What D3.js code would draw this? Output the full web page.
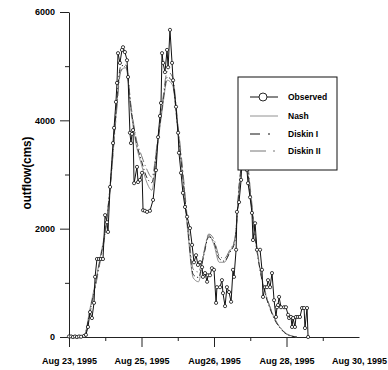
<!DOCTYPE html>
<html>
<head>
<meta charset="utf-8">
<script src="https://cdn.jsdelivr.net/npm/d3@7"></script>
<style>
  body { margin: 0; background: #fff; }
  svg { display: block; }
  text { font-family: "Liberation Sans", Arial, sans-serif; font-weight: bold; fill: #000; }
</style>
</head>
<body>
<div id="chart"></div>
<script>
// observed hydrograph (hours after Aug 23, 1995 00:00, outflow in cms)
var obsHours = [0, 1.2, 2.3, 3.5, 4.6, 5.8, 7.0, 8.7, 9.8, 11.0, 12.2, 13.3, 14.5, 15.1, 16.2, 17.4, 18.5, 19.7,
  20.9, 22.0, 22.6, 23.8, 25.5, 26.1, 27.2, 27.8, 28.4, 29.5, 30.7, 31.3, 32.4, 33.6, 34.2, 35.3, 35.9, 36.5,
  37.1, 37.7, 39.4, 40.0, 41.1, 42.3, 42.9, 44.0, 45.2, 46.9, 48.7, 50.4, 51.6, 52.7, 53.3, 53.9, 54.5, 55.6,
  56.8, 57.4, 58.5, 59.7, 60.3, 62.0, 63.2, 63.7, 64.9, 66.0, 67.2, 68.4, 70.1, 71.3, 72.4, 73.6, 74.7, 75.9,
  77.1, 77.6, 78.8, 80.0, 80.5, 81.7, 82.8, 84.0, 85.2, 85.7, 87.5, 88.6, 89.2, 90.4, 91.5, 92.7, 93.9, 95.0,
  95.6, 96.8, 97.3, 98.5, 99.7, 100.2, 100.8, 102.0, 103.1, 103.7, 104.9, 106.0, 106.6, 107.8, 108.9, 110.7,
  111.8, 112.4, 113.6, 114.7, 115.3, 116.5, 117.6, 118.8, 119.9, 120.5, 121.1, 121.7, 122.8, 124.6, 125.7,
  126.9, 127.5, 128.6, 129.2, 129.8, 130.9, 131.5, 132.7, 133.8, 135.0, 136.2, 136.7, 137.9, 138.5];
var obsFlow = [10, 10, 0, 10, 0, 10, 5, 20, 40, 185, 460, 350, 630, 1110, 1440, 1440, 1440, 1440,
  2250, 2120, 1940, 2770, 3580, 3860, 4340, 4690, 5240, 5060, 5300, 5350, 5260, 5110, 4800, 3770, 3580, 3750,
  3820, 2840, 3140, 2860, 2900, 3030, 2340, 2330, 2310, 2330, 2530, 3080, 3690, 4080, 4320, 5240, 5060, 4890,
  5300, 4980, 5670, 5060, 4740, 4250, 3770, 3400, 3030, 2660, 2400, 2220, 2010, 1700, 1380, 1510, 1330, 1380,
  1290, 1110, 1180, 1020, 1140, 1140, 1270, 1240, 630, 920, 920, 1050, 810, 570, 920, 830, 650, 1240,
  1110, 1610, 2310, 2490, 2900, 3400, 3210, 3400, 3080, 2840, 2580, 2290, 1790, 2100, 1610, 1610,
  1240, 740, 920, 920, 1050, 920, 1180, 680, 370, 550, 590, 740, 550, 550, 550,
  410, 350, 370, 185, 350, 185, 370, 370, 370, 535, 535, 165, 535, 0];

// simulated hydrographs, every 3 hours
var modelHours = [0, 3, 6, 9, 12, 15, 18, 21, 24, 27, 30, 33, 36, 39, 42, 45, 48, 51, 54, 57, 60, 63, 66, 69,
  72, 75, 78, 81, 84, 87, 90, 93, 96, 99, 102, 105, 108, 111, 114, 117, 120, 123, 126, 129, 132];
var nashFlow = [0, 0, 0, 40, 500, 960, 1460, 1980, 2810, 4010, 4930, 4970, 4150, 3540, 3180, 2860, 2710, 3450,
  4190, 4740, 4650, 3820, 2900, 1880, 1090, 1020, 1510, 1880, 1700, 1380, 1380, 1570, 1790, 2900, 3360, 2620,
  1790, 1200, 780, 500, 280, 150, 55, 20, 0];
var diskin1Flow = [0, 0, 0, 30, 450, 920, 1420, 1950, 2850, 4080, 5000, 5020, 4200, 3600, 3250, 2950, 2850, 3500,
  4250, 4800, 4700, 3850, 2950, 1950, 1150, 1100, 1500, 1850, 1750, 1450, 1400, 1550, 1750, 2950, 3400, 2650,
  1800, 1180, 760, 480, 270, 140, 50, 15, 0];
var diskin2Flow = [0, 0, 0, 25, 420, 880, 1380, 1920, 2800, 3950, 4900, 5000, 4250, 3650, 3350, 3100, 2950, 3550,
  4300, 4900, 4800, 3950, 3050, 2050, 1250, 1200, 1550, 1900, 1800, 1500, 1450, 1600, 1800, 2850, 3550, 2750,
  1850, 1220, 800, 510, 290, 150, 60, 20, 0];

var xMajorHours = [0, 42, 84, 126, 168];
var xMinorHours = [21, 63, 105, 147];
var xTickLabels = ['Aug 23, 1995', 'Aug 25, 1995', 'Aug26, 1995', 'Aug 28, 1995', 'Aug 30, 1995'];
var yMajorTicks = [0, 2000, 4000, 6000];
var yMinorTicks = [1000, 3000, 5000];
var legendLabels = ['Observed', 'Nash', 'Diskin I', 'Diskin II'];

var width = 388, height = 370;

var svg = d3.select('#chart').append('svg')
    .attr('width', width)
    .attr('height', height);

var x = d3.scaleLinear().domain([0, 168]).range([69, 359]);
var y = d3.scaleLinear().domain([0, 6000]).range([337, 12]);

// axes: major ticks with labels, minor ticks without
var yMajor = svg.append('g')
    .attr('transform', 'translate(69,0)')
    .call(d3.axisLeft(y).tickValues(yMajorTicks).tickSize(9).tickSizeOuter(0).tickPadding(5)
        .tickFormat(d3.format('d')));
var yMinor = svg.append('g')
    .attr('transform', 'translate(69,0)')
    .call(d3.axisLeft(y).tickValues(yMinorTicks).tickSize(4).tickSizeOuter(0).tickFormat(''));
yMinor.select('.domain').remove();

var xMajor = svg.append('g')
    .attr('transform', 'translate(0,337)')
    .call(d3.axisBottom(x).tickValues(xMajorHours).tickSize(10).tickSizeOuter(0).tickPadding(11)
        .tickFormat(function(d, i) { return xTickLabels[i]; }));
var xMinor = svg.append('g')
    .attr('transform', 'translate(0,337)')
    .call(d3.axisBottom(x).tickValues(xMinorHours).tickSize(4).tickSizeOuter(0).tickFormat(''));
xMinor.select('.domain').remove();

svg.selectAll('.domain, .tick line').attr('stroke', '#222').attr('stroke-width', 1);
svg.selectAll('.tick text')
    .style('font-family', '"Liberation Sans", Arial, sans-serif')
    .style('font-weight', 'bold')
    .style('font-size', '9px')
    .attr('fill', '#000');
// last x tick sits at the end of the axis, no visible stroke there
xMajor.selectAll('.tick').filter(function(d) { return d === 168; }).select('line').remove();

svg.append('text')
    .attr('transform', 'translate(31,173) rotate(-90)')
    .attr('text-anchor', 'middle')
    .attr('textLength', 73)
    .attr('lengthAdjust', 'spacingAndGlyphs')
    .style('font-size', '13px')
    .text('outflow(cms)');

// model lines
var models = [
    { values: nashFlow, color: '#777', width: 0.8, dash: null },
    { values: diskin1Flow, color: '#111', width: 0.9, dash: '6,2.5,1.2,2.5' },
    { values: diskin2Flow, color: '#666', width: 0.9, dash: '10,3,1.2,3' }
];

var modelLine = d3.line()
    .x(function(d) { return x(d[0]); })
    .y(function(d) { return y(d[1]); })
    .curve(d3.curveMonotoneX);

models.forEach(function(m) {
    var pts = modelHours.map(function(h, i) { return [h, m.values[i]]; });
    svg.append('path')
        .datum(pts)
        .attr('fill', 'none')
        .attr('stroke', m.color)
        .attr('stroke-width', m.width)
        .attr('stroke-dasharray', m.dash)
        .attr('d', modelLine);
});

// observed line with open circles
var obsPts = obsHours.map(function(h, i) { return [h, obsFlow[i]]; });
var obsLine = d3.line()
    .x(function(d) { return x(d[0]); })
    .y(function(d) { return y(d[1]); });

svg.append('path')
    .datum(obsPts)
    .attr('fill', 'none')
    .attr('stroke', '#111')
    .attr('stroke-width', 1)
    .attr('d', obsLine);

svg.selectAll('.obs')
    .data(obsPts)
    .enter()
    .append('circle')
    .attr('class', 'obs')
    .attr('cx', function(d) { return x(d[0]); })
    .attr('cy', function(d) { return y(d[1]); })
    .attr('r', 1.6)
    .attr('fill', '#fff')
    .attr('stroke', '#111')
    .attr('stroke-width', 0.8);

// legend
var legend = svg.append('g').attr('transform', 'translate(238,77)');
legend.append('rect')
    .attr('width', 99)
    .attr('height', 93)
    .attr('fill', '#fff')
    .attr('stroke', '#111')
    .attr('stroke-width', 1);

var legendStyles = [
    { color: '#111', width: 1, dash: null, marker: true },
    { color: '#777', width: 0.8, dash: null, marker: false },
    { color: '#111', width: 1, dash: '10,8,2,8', marker: false },
    { color: '#666', width: 0.9, dash: '16,7,2,8', marker: false }
];

var rowY = [20, 39, 57, 74];
legendLabels.forEach(function(label, i) {
    var st = legendStyles[i];
    var row = legend.append('g').attr('transform', 'translate(0,' + rowY[i] + ')');
    row.append('line')
        .attr('x1', 12).attr('x2', 40)
        .attr('stroke', st.color)
        .attr('stroke-width', st.width)
        .attr('stroke-dasharray', st.dash);
    if (st.marker) {
        row.append('circle')
            .attr('cx', 25).attr('r', 4)
            .attr('fill', '#fff')
            .attr('stroke', '#111')
            .attr('stroke-width', 0.9);
    }
    row.append('text')
        .attr('x', 50)
        .attr('dy', '0.35em')
        .style('font-size', '8.5px')
        .text(label);
});
</script>
</body>
</html>
